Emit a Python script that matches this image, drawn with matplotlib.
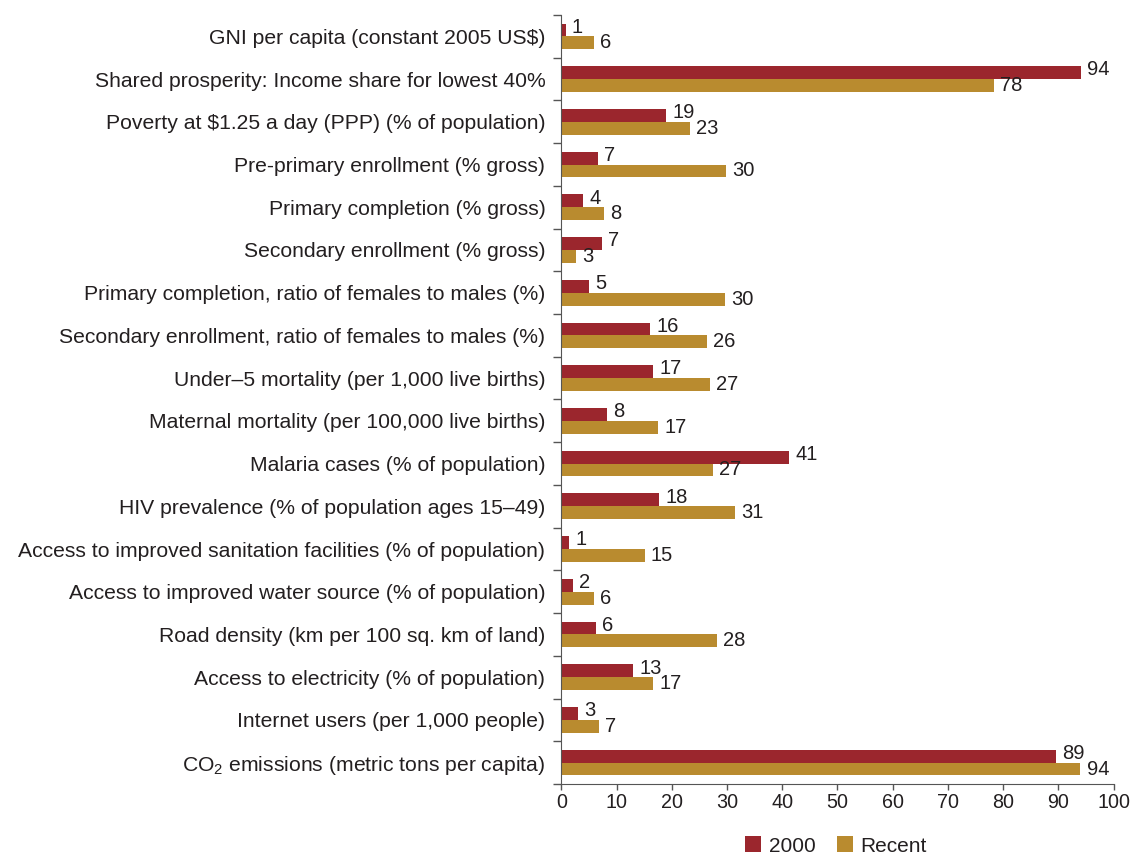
import numpy as np
import matplotlib.pyplot as plt

plt.rcParams['font.family'] = ['Liberation Sans', 'DejaVu Sans']
plt.rcParams['mathtext.fontset'] = 'custom'
plt.rcParams['mathtext.rm'] = 'Liberation Sans'

categories = [
    "GNI per capita (constant 2005 US$)",
    "Shared prosperity: Income share for lowest 40%",
    "Poverty at \\$1.25 a day (PPP) (% of population)",
    "Pre-primary enrollment (% gross)",
    "Primary completion (% gross)",
    "Secondary enrollment (% gross)",
    "Primary completion, ratio of females to males (%)",
    "Secondary enrollment, ratio of females to males (%)",
    "Under\u20135 mortality (per 1,000 live births)",
    "Maternal mortality (per 100,000 live births)",
    "Malaria cases (% of population)",
    "HIV prevalence (% of population ages 15\u201349)",
    "Access to improved sanitation facilities (% of population)",
    "Access to improved water source (% of population)",
    "Road density (km per 100 sq. km of land)",
    "Access to electricity (% of population)",
    "Internet users (per 1,000 people)",
    "CO$_\\mathregular{2}$ emissions (metric tons per capita)",
]

# bar lengths
vals_2000 = [0.8, 94.1, 19.0, 6.6, 3.9, 7.4, 5.0, 16.1, 16.6, 8.3,
             41.2, 17.7, 1.4, 2.1, 6.3, 13.0, 3.0, 89.5]
vals_recent = [5.9, 78.3, 23.3, 29.8, 7.7, 2.6, 29.6, 26.4, 26.9, 17.5,
               27.5, 31.4, 15.1, 5.9, 28.2, 16.6, 6.8, 94.0]

# printed value labels
labels_2000 = [1, 94, 19, 7, 4, 7, 5, 16, 17, 8, 41, 18, 1, 2, 6, 13, 3, 89]
labels_recent = [6, 78, 23, 30, 8, 3, 30, 26, 27, 17, 27, 31, 15, 6, 28, 17, 7, 94]

red = '#9b262d'
gold = '#b98b2f'
grey = '#555555'
txt = '#231f20'

fig = plt.figure(figsize=(11.32, 8.59), dpi=100)
ax = fig.add_axes([561.3/1132, 1 - 784/859, 552.3/1132, 769/859])

y = np.arange(len(categories))
h = 0.30

ax.barh(y - h/2, vals_2000, height=h, color=red, label='2000')
ax.barh(y + h/2, vals_recent, height=h, color=gold, label='Recent')

for i in range(len(categories)):
    ax.annotate(str(labels_2000[i]), (vals_2000[i], y[i] - h/2), xytext=(4.5, 2),
                textcoords='offset points', va='center', ha='left', fontsize=14.5, color=txt)
    ax.annotate(str(labels_recent[i]), (vals_recent[i], y[i] + h/2), xytext=(4.5, 0),
                textcoords='offset points', va='center', ha='left', fontsize=14.5, color=txt)

ax.set_xlim(0, 100)
ax.set_ylim(len(categories) - 0.5, -0.5)
ax.set_xticks(np.arange(0, 101, 10))

ax.set_yticks(y)
ax.set_yticklabels(categories)
ax.set_yticks(np.arange(-0.5, len(categories), 1), minor=True)
ax.tick_params(axis='y', which='major', length=0, pad=11.5, labelsize=15.2, labelcolor=txt)
ax.tick_params(axis='y', which='minor', length=5.8, width=1, color=grey, direction='out')
ax.tick_params(axis='x', length=4.3, width=1, color=grey, direction='out', pad=2.5,
               labelsize=14.2, labelcolor=txt)

ax.spines['top'].set_visible(False)
ax.spines['right'].set_visible(False)
ax.spines['left'].set_color(grey)
ax.spines['bottom'].set_color(grey)

# legend sits at the very bottom; kept just inside the figure
fig.legend(loc='center', bbox_to_anchor=(836/1132, 1 - 846/859), ncol=2, frameon=False,
           fontsize=15, handlelength=0.77, handleheight=0.77, handletextpad=0.38,
           columnspacing=1.0, labelcolor=txt)

fig.savefig('out.png', dpi=100)
